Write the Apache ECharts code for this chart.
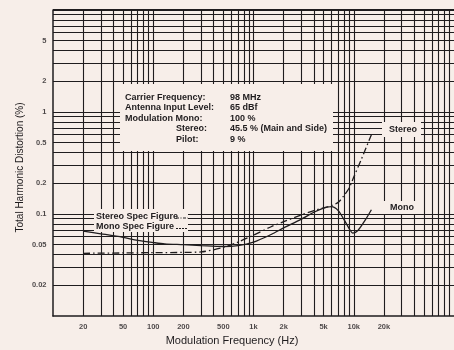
<!DOCTYPE html>
<html><head><meta charset="utf-8">
<script src="https://cdn.jsdelivr.net/npm/echarts@6/dist/echarts.min.js"></script>
<style>html,body{margin:0;padding:0;background:#f7eee9}#c{width:454px;height:350px}</style>
</head><body><div id="c"></div>
<script>
// ---- data ----
const freqTicks = [20, 50, 100, 200, 500, 1000, 2000, 5000, 10000, 20000];
const freqTickLabels = ['20', '50', '100', '200', '500', '1k', '2k', '5k', '10k', '20k'];
const thdTicks = [5, 2, 1, 0.5, 0.2, 0.1, 0.05, 0.02];
const thdTickLabels = ['5', '2', '1', '0.5', '0.2', '0.1', '0.05', '0.02'];
const freqGridLines = [20, 30, 40, 50, 60, 70, 80, 90, 100, 200, 300, 400, 500, 600, 700, 800, 900, 1000,
  2000, 3000, 4000, 5000, 6000, 7000, 8000, 9000, 10000, 20000, 30000, 40000, 50000, 60000, 70000, 80000, 90000];
const thdGridLines = [0.02, 0.03, 0.04, 0.05, 0.06, 0.07, 0.08, 0.09, 0.1, 0.2, 0.3, 0.4, 0.5, 0.6, 0.7, 0.8, 0.9,
  1, 2, 3, 4, 5, 6, 7, 8, 9, 10];
const stereoFreq = [20, 50, 100, 200, 300, 500, 700, 1000, 1500, 2000, 3000, 4000, 5000, 6000, 7000, 8000, 9000, 10000, 12000, 15300];
const stereoTHD = [0.0412, 0.0415, 0.0418, 0.042, 0.0425, 0.047, 0.053, 0.062, 0.075, 0.084, 0.098, 0.108, 0.115, 0.121, 0.13, 0.152, 0.18, 0.23, 0.35, 0.63];
const monoFreq = [20, 30, 50, 70, 100, 130, 200, 300, 500, 700, 1000, 1500, 2000, 3000, 4000, 5000, 6000, 7000, 8000, 9000, 9800, 11000, 13000, 15000];
const monoTHD = [0.068, 0.064, 0.059, 0.055, 0.0525, 0.051, 0.05, 0.049, 0.048, 0.049, 0.053, 0.063, 0.073, 0.089, 0.104, 0.114, 0.118, 0.108, 0.088, 0.072, 0.065, 0.069, 0.087, 0.11];

const BG = '#f7eee9';
const INK = '#1f1c1e';
const FF = '"Liberation Sans", Arial, Helvetica, sans-serif';

const chart = echarts.init(document.getElementById('c'), null, {renderer: 'canvas'});

function txt(text, x, y, size, weight, align, rot) {
  return {type: 'text', z: 8, x: x, y: y, rotation: rot || 0,
    style: {text: text, font: (weight || 'normal') + ' ' + size + 'px ' + FF, fill: INK,
      align: align || 'left', textAlign: align || 'left', verticalAlign: 'middle', textVerticalAlign: 'middle'}};
}
function mask(x, y, w, h) {
  return {type: 'rect', z: 3, shape: {x: x, y: y, width: w, height: h}, style: {fill: BG}, silent: true};
}

const option = {
  backgroundColor: BG,
  animation: false,
  grid: {left: 53, top: 10, width: 414.4, height: 306, containLabel: false},
  xAxis: {type: 'log', logBase: 10, min: 10, max: 100000,
    axisLine: {show: true, lineStyle: {color: INK, width: 1.5}}, axisTick: {show: false},
    axisLabel: {show: false}, splitLine: {show: false}, minorSplitLine: {show: false}},
  yAxis: {type: 'log', logBase: 10, min: 0.01, max: 10,
    axisLine: {show: true, lineStyle: {color: INK, width: 1.5}}, axisTick: {show: false},
    axisLabel: {show: false}, splitLine: {show: false}},
  series: [
    {type: 'line', name: 'grid', data: [], silent: true, z: 1,
      markLine: {z: 1, silent: true, symbol: ['none', 'none'], animation: false,
        label: {show: false}, lineStyle: {color: INK, width: 1.1, type: 'solid'},
        data: freqGridLines.map(v => ({xAxis: v})).concat(thdGridLines.map(v => ({yAxis: v, lineStyle: {width: v === 10 ? 2 : 1.1}})))}},
    {type: 'scatter', name: 'ylabels', z: 6, silent: true, symbolSize: 1, itemStyle: {color: 'transparent'},
      data: thdTicks.map((v, i) => ({value: [10, v], label: {formatter: thdTickLabels[i]}})),
      label: {show: true, position: 'left', distance: 6, color: INK, fontSize: 7.5, fontWeight: 'bold', fontFamily: FF}},
    {type: 'scatter', name: 'xlabels', z: 6, silent: true, symbolSize: 1, itemStyle: {color: 'transparent'},
      data: freqTicks.map((v, i) => ({value: [v, 0.01], label: {formatter: freqTickLabels[i]}})),
      label: {show: true, position: 'bottom', distance: 6, color: INK, fontSize: 7.5, fontWeight: 'bold', fontFamily: FF}},
    {type: 'line', name: 'Stereo', z: 5, smooth: 0.3, showSymbol: false, silent: true,
      lineStyle: {color: INK, width: 1.3, type: [7, 3, 1.5, 3]},
      data: stereoFreq.map((f, i) => [f, stereoTHD[i]])},
    {type: 'line', name: 'Mono', z: 5, smooth: 0.3, showSymbol: false, silent: true,
      lineStyle: {color: INK, width: 1.3, type: 'solid'},
      data: monoFreq.map((f, i) => [f, monoTHD[i]])}
  ],
  graphic: {elements: [
    mask(120, 84, 213, 67),
    mask(382, 122, 39, 15),
    mask(370, 201, 50, 13),
    mask(94, 209, 94, 23),
    txt('Carrier Frequency:', 125, 97.5, 9, 'bold'),
    txt('Antenna Input Level:', 125, 108, 9, 'bold'),
    txt('Modulation Mono:', 125, 118.5, 9, 'bold'),
    txt('Stereo:', 176, 129, 9, 'bold'),
    txt('Pilot:', 176, 139.3, 9, 'bold'),
    txt('98 MHz', 230, 97.5, 9, 'bold'),
    txt('65 dBf', 230, 108, 9, 'bold'),
    txt('100 %', 230, 118.5, 9, 'bold'),
    txt('45.5 % (Main and Side)', 230, 129, 9, 'bold'),
    txt('9 %', 230, 139.3, 9, 'bold'),
    txt('Stereo', 389, 129.5, 9, 'bold'),
    txt('Mono', 390, 208, 9, 'bold'),
    txt('Stereo Spec Figure', 96, 216.5, 9, 'bold'),
    txt('Mono Spec Figure', 96, 227, 9, 'bold'),
    {type: 'polyline', z: 7, shape: {points: [[176, 218], [188, 218]]}, style: {stroke: INK, lineWidth: 1.2, lineDash: [3, 1.5, 1, 1.5]}},
    {type: 'polyline', z: 7, shape: {points: [[176, 228.5], [188, 228.5]]}, style: {stroke: INK, lineWidth: 1.2, lineDash: [2, 1]}},
    txt('Modulation Frequency (Hz)', 232, 341, 11, 'normal', 'center'),
    txt('Total Harmonic Distortion (%)', 20, 167.5, 10, 'normal', 'center', Math.PI / 2)
  ]}
};
chart.setOption(option);
</script>
</body></html>
